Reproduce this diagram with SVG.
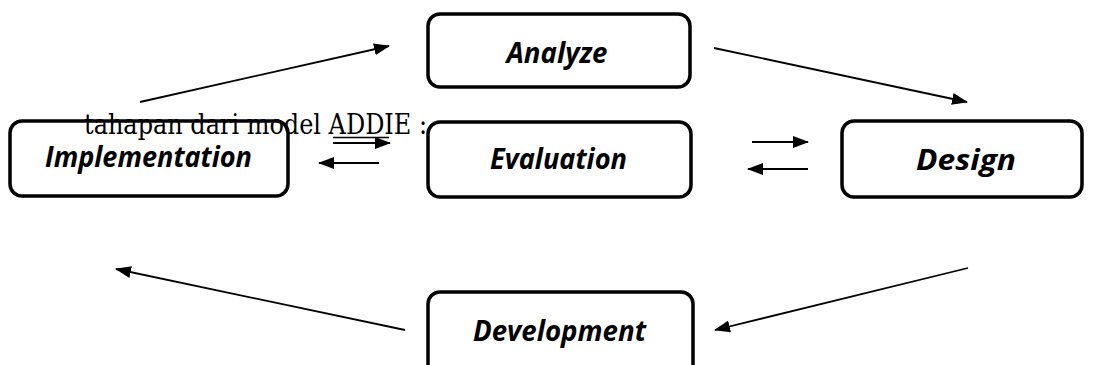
<svg xmlns="http://www.w3.org/2000/svg" width="1095" height="365" viewBox="0 0 1095 365">
<style>
.box{fill:#fff;stroke:#000;stroke-width:3.5}
.lbl{font-family:"Open Sans","Liberation Sans",Arial,sans-serif;font-weight:bold;font-style:italic;font-size:28px;fill:#000}
.conn{stroke:#000;stroke-width:1.8;fill:none}
.cap{font-family:"DejaVu Serif","Liberation Serif",serif;font-size:27px;fill:#000}
</style>
<defs>
<marker id="ah" viewBox="0 0 16 12" refX="15" refY="6" markerWidth="16" markerHeight="12" markerUnits="userSpaceOnUse" orient="auto">
<path d="M0,0 L16,6 L0,12 Z" fill="#000"/>
</marker>
</defs>
<rect width="1095" height="365" fill="#fff"/>
<g id="analyze"><rect class="box" x="428" y="14" width="262" height="73" rx="12"/><text class="lbl" x="557" y="63" text-anchor="middle" textLength="101" lengthAdjust="spacingAndGlyphs">Analyze</text></g>
<g id="implementation"><rect class="box" x="10" y="121" width="278" height="75" rx="12"/><text class="lbl" x="148.5" y="167" text-anchor="middle" textLength="207" lengthAdjust="spacingAndGlyphs">Implementation</text></g>
<g id="evaluation"><rect class="box" x="428" y="122" width="263" height="75" rx="12"/><text class="lbl" x="558.5" y="169" text-anchor="middle" textLength="137" lengthAdjust="spacingAndGlyphs">Evaluation</text></g>
<g id="design"><rect class="box" x="842" y="121" width="240" height="76" rx="12"/><text class="lbl" x="966" y="170" text-anchor="middle" textLength="100" lengthAdjust="spacingAndGlyphs">Design</text></g>
<g id="development"><rect class="box" x="428" y="292" width="265" height="95" rx="12"/><text class="lbl" x="559.5" y="341" text-anchor="middle" textLength="173" lengthAdjust="spacingAndGlyphs">Development</text></g>
<g id="caption"><text class="cap" x="84" y="134" textLength="343" lengthAdjust="spacingAndGlyphs">tahapan dari model ADDIE :</text><line x1="333" y1="137.5" x2="389" y2="137.5" stroke="#000" stroke-width="1.5"/></g>
<g id="connectors">
<line class="conn" x1="140" y1="102" x2="389" y2="46" marker-end="url(#ah)"/>
<line class="conn" x1="714" y1="48" x2="967" y2="102" marker-end="url(#ah)"/>
<line class="conn" x1="968" y1="268" x2="715" y2="330" marker-end="url(#ah)"/>
<line class="conn" x1="405" y1="330" x2="116" y2="269" marker-end="url(#ah)"/>
<line class="conn" x1="333" y1="143" x2="390" y2="143" marker-end="url(#ah)"/>
<line class="conn" x1="379" y1="163" x2="319" y2="163" marker-end="url(#ah)"/>
<line class="conn" x1="752" y1="142" x2="808" y2="142" marker-end="url(#ah)"/>
<line class="conn" x1="808" y1="169" x2="748" y2="169" marker-end="url(#ah)"/>
</g>
</svg>
